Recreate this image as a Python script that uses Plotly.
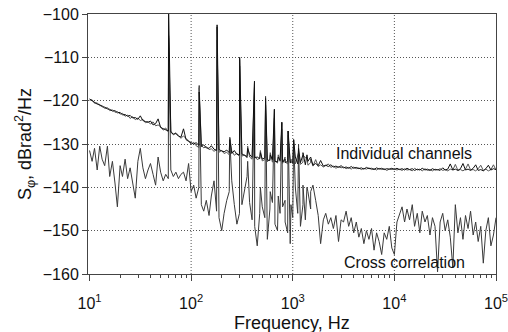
import plotly.graph_objects as go

# ---------------- data ----------------
# frequency grid: 40 points per decade (mantissas), decades 10..10^4, plus 1e5
MANT = [1.00, 1.06, 1.12, 1.19, 1.26, 1.33, 1.41, 1.50, 1.58, 1.68,
        1.78, 1.88, 2.00, 2.11, 2.24, 2.37, 2.51, 2.66, 2.82, 2.99,
        3.16, 3.35, 3.55, 3.76, 3.98, 4.22, 4.47, 4.73, 5.01, 5.31,
        5.62, 5.96, 6.31, 6.68, 7.08, 7.50, 7.94, 8.41, 8.91, 9.44]
DECADES = [10, 100, 1000, 10000]
F_END = 100000

# individual channel 1 (dBrad^2/Hz)
IND1 = [
    -119.6, -120.0, -120.3, -120.8, -120.9, -121.4, -121.5, -121.9, -122.0, -122.4,
    -122.3, -122.8, -122.7, -123.3, -123.2, -123.6, -123.4, -124.0, -123.9, -124.3,
    -123.5, -124.6, -124.8, -125.0, -124.7, -125.6, -125.3, -124.2, -126.2, -126.5,
    -126.6, -127.0, -127.3, -127.7, -127.6, -128.2, -128.4, -126.5, -129.0, -129.4,
    -129.8, -130.0, -129.7, -130.3, -130.6, -130.2, -130.9, -131.0, -130.4, -131.2,
    -131.5, -131.3, -131.6, -131.8, -131.4, -132.0, -132.2, -131.5, -132.4, -132.5,
    -132.3, -132.7, -132.9, -132.4, -133.1, -133.2, -133.0, -133.4, -133.5, -133.2,
    -133.7, -133.8, -133.6, -134.0, -134.1, -133.8, -134.2, -134.3, -134.0, -134.4,
    -134.5, -133.0, -134.6, -134.3, -132.5, -134.8, -134.0, -133.0, -134.9, -134.5,
    -135.0, -133.8, -135.1, -134.9, -135.2, -134.8, -135.3, -135.1, -135.4, -135.0,
    -135.5, -135.3, -135.6, -135.2, -135.6, -135.4, -135.7, -135.5, -135.8, -135.4,
    -135.7, -135.6, -135.9, -135.5, -135.8, -135.6, -135.9, -135.7, -135.8, -135.6,
    -135.9, -135.6, -135.9, -135.7, -136.0, -135.6, -135.9, -135.7, -136.1, -135.8,
    -136.0, -135.6, -136.0, -135.8, -136.1, -135.7, -136.0, -135.9, -136.1, -135.5,
    -136.0, -135.8, -134.6, -136.0, -135.8, -136.1, -135.7, -134.5, -136.0, -135.8,
    -136.1, -135.6, -134.8, -136.1, -135.9, -136.2, -135.7, -134.9, -136.0, -135.7,
    -135.9]

# individual channel 2
IND2 = [
    -119.9, -119.8, -120.6, -120.5, -121.2, -121.1, -121.8, -121.6, -122.3, -122.1,
    -122.7, -122.5, -123.1, -122.9, -123.6, -123.3, -124.1, -123.7, -124.4, -124.0,
    -124.6, -124.3, -125.1, -124.8, -125.4, -124.9, -125.8, -125.6, -126.0, -126.8,
    -126.3, -127.2, -127.0, -127.9, -127.4, -128.0, -128.7, -128.1, -128.8, -129.2,
    -130.1, -129.6, -130.4, -130.8, -130.3, -130.9, -130.6, -131.3, -131.1, -131.7,
    -131.2, -131.9, -131.5, -132.2, -131.9, -132.5, -131.6, -132.6, -132.1, -132.9,
    -132.8, -132.5, -133.2, -133.0, -133.5, -132.8, -133.6, -133.3, -133.9, -133.6,
    -134.1, -133.5, -134.2, -133.9, -134.4, -134.0, -134.5, -134.1, -134.6, -134.2,
    -134.2, -134.6, -132.8, -134.7, -134.2, -133.2, -134.9, -134.3, -135.1, -133.6,
    -135.2, -134.8, -135.3, -135.0, -134.6, -135.4, -135.1, -135.6, -135.2, -135.5,
    -135.3, -135.7, -135.4, -135.8, -135.3, -135.7, -135.5, -135.9, -135.6, -135.8,
    -135.5, -135.9, -135.7, -136.0, -135.6, -135.9, -135.7, -136.1, -135.8, -135.9,
    -135.7, -136.0, -135.8, -136.1, -135.7, -136.0, -135.9, -136.2, -135.6, -136.0,
    -135.8, -136.2, -135.7, -136.1, -135.9, -136.2, -135.8, -136.0, -135.7, -136.1,
    -135.9, -136.2, -135.8, -136.0, -134.7, -136.1, -135.9, -136.2, -135.8, -134.6,
    -136.0, -135.9, -136.2, -135.7, -134.9, -136.1, -135.8, -136.2, -135.9, -134.8,
    -136.0]

# cross correlation
CROSS = [
    -131.5, -134.0, -131.0, -136.0, -130.5, -133.5, -135.0, -130.5, -137.5, -134.0,
    -139.0, -144.5, -135.0, -137.5, -133.5, -138.0, -135.5, -139.5, -142.5, -134.0,
    -131.0, -135.5, -138.0, -136.0, -134.5, -137.0, -139.5, -133.0, -136.5, -138.5,
    -137.0, -138.0, -136.0, -137.5, -136.5, -138.0, -137.0, -136.5, -138.5, -134.5,
    -141.0, -139.5, -142.5, -140.0, -144.0, -145.5, -143.0, -146.5, -142.0, -138.5,
    -145.5, -147.0, -150.0, -146.0, -143.0, -141.0, -138.5, -144.0, -148.5, -146.0,
    -144.0, -141.0, -137.5, -143.5, -147.5, -149.0, -153.5, -146.0, -144.5, -147.0,
    -152.0, -145.0, -143.5, -148.5, -150.0, -146.0, -144.5, -148.0, -150.5, -153.0,
    -147.0, -140.0, -146.0, -149.0, -144.0, -147.5, -141.0, -145.0, -139.5, -143.0,
    -146.5, -153.0, -147.5, -146.0, -148.5, -147.0, -149.5, -146.5, -152.5, -147.5,
    -148.0, -145.5, -149.0, -147.0, -150.5, -148.0, -151.5, -149.5, -153.0, -150.0,
    -152.0, -149.5, -154.5, -150.5, -152.5, -155.5, -150.5, -152.0, -149.0, -154.0,
    -155.5, -148.0, -146.5, -144.5, -148.0, -145.0, -147.5, -144.0, -149.0, -146.0,
    -150.5, -145.5, -148.0, -146.5, -151.0, -147.0, -149.0, -159.5, -148.0, -146.0,
    -150.0, -147.5, -151.5, -158.5, -144.0, -150.5, -147.0, -152.0, -146.5, -149.5,
    -145.5, -151.0, -148.0, -152.5, -149.0, -157.5, -150.0, -147.0, -153.5, -151.0,
    -147.0]

# mains harmonics (Hz) and spike peaks for each series
HARM_F = [60, 120, 180, 240, 300, 360, 420, 480, 540, 600, 660,
          720, 780, 840, 900, 960, 1020, 1140, 1260, 1380, 1500]
HARM_IND1 = [-99.0, -118.0, -102.5, -129.0, -110.0, -131.0, -115.5, -132.0, -119.5, -132.5, -122.0,
             -133.0, -125.0, -133.5, -127.0, -134.0, -129.0, -131.0, -132.0, -132.5, -133.0]
HARM_IND2 = [-105.5, -117.0, -106.0, -128.5, -112.0, -130.5, -117.0, -131.5, -121.0, -132.0, -124.0,
             -132.5, -126.5, -133.0, -128.0, -133.5, -130.0, -132.0, -132.5, -133.0, -133.5]
HARM_CROSS = [-105.0, -116.5, -103.0, -128.5, -110.5, -134.0, -116.0, -140.0, -119.0, -141.0, -122.0,
              -142.0, -125.0, -143.0, -127.0, -144.0, -129.0, -130.0, -139.5, -140.0, -141.0]

X_TICKS = [10, 100, 1000, 10000, 100000]
X_TICKTEXT = ["10<sup>1</sup>", "10<sup>2</sup>", "10<sup>3</sup>", "10<sup>4</sup>", "10<sup>5</sup>"]
X_GRID = [100, 1000, 10000]
Y_TICKS = [-160, -150, -140, -130, -120, -110, -100]

# ---------------- build ----------------
FREQ = [round(m * d, 4) for d in DECADES for m in MANT] + [F_END]
assert len(FREQ) == len(IND1) == len(IND2) == len(CROSS)


def merge(base, peaks):
    pts = list(zip(FREQ, base)) + list(zip(HARM_F, peaks))
    pts.sort(key=lambda p: p[0])
    return [p[0] for p in pts], [p[1] for p in pts]


FONT = "Liberation Sans, Arial, sans-serif"
DOT = "1px,2px"
fig = go.Figure()

for base, peaks, col in [(CROSS, HARM_CROSS, "#3a3a3a"),
                         (IND2, HARM_IND2, "#555555"),
                         (IND1, HARM_IND1, "#111111")]:
    fx, fy = merge(base, peaks)
    fig.add_trace(go.Scatter(x=fx, y=fy, mode="lines",
                             line=dict(color=col, width=1),
                             showlegend=False, hoverinfo="skip"))

minor_vals = [k * d for d in DECADES for k in range(2, 10)]

# vertical dotted grid lines at the inner decades (shape x in data units on a log axis)
shapes = [dict(type="line", xref="x", yref="paper", x0=g, x1=g,
               y0=0, y1=1, layer="below", line=dict(color="#555", width=1, dash=DOT))
          for g in X_GRID]

fig.update_layout(
    width=508, height=332,
    margin=dict(l=88, r=12, t=14, b=58),
    paper_bgcolor="white", plot_bgcolor="white",
    font=dict(family=FONT, size=16, color="#111"),
    shapes=shapes,
    xaxis=dict(
        type="log", range=[0.985, 5.0], automargin=False,
        tickmode="array", tickvals=X_TICKS, ticktext=X_TICKTEXT,
        ticks="outside", ticklen=6, tickcolor="#444",
        ticklabelstandoff=9, ticklabeloverflow="allow",
        showgrid=False, zeroline=False,
        showline=True, linecolor="#444", linewidth=1, mirror=True,
        minor=dict(tickmode="array", tickvals=minor_vals, ticks="outside",
                   ticklen=3, tickcolor="#444", showgrid=False),
        tickfont=dict(size=16),
    ),
    yaxis=dict(
        range=[-160, -100], tickmode="array", tickvals=Y_TICKS, automargin=False,
        ticks="outside", ticklen=5, tickcolor="#444",
        showgrid=True, gridcolor="#555", gridwidth=1, griddash=DOT,
        zeroline=False,
        showline=True, linecolor="#444", linewidth=1, mirror=True,
        title=dict(text="S<sub>φ</sub>, dBrad<sup>2</sup>/Hz", font=dict(size=18), standoff=6),
        tickfont=dict(size=16),
    ),
    annotations=[
        dict(x=0.5, y=-0.19, xref="paper", yref="paper", text="Frequency, Hz",
             showarrow=False, yanchor="middle", borderpad=0, font=dict(size=18, color="#111")),
        dict(x=4.095, y=-132.1, xref="x", yref="y", text="Individual channels",
             showarrow=False, font=dict(size=16, color="#111")),
        dict(x=4.095, y=-157.3, xref="x", yref="y", text="Cross correlation",
             showarrow=False, font=dict(size=16, color="#111")),
    ],
    hovermode=False,
)

fig.write_html("out.html")
